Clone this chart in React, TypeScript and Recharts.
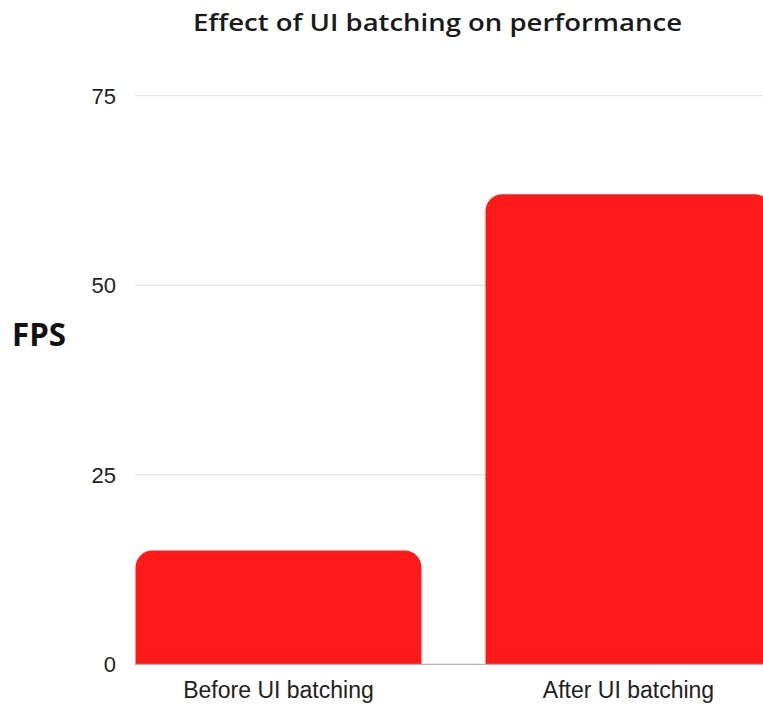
import { BarChart, Bar, XAxis, YAxis, CartesianGrid } from 'recharts';

const categories = ['Before UI batching', 'After UI batching'];
const fpsValues = [15, 62];
const yTicks = [0, 25, 50, 75];

const data = categories.map((name, i) => ({ name, fps: fpsValues[i] }));

const W = 763;
const H = 704;
const BAR_RED = '#FF1A1A';
const TEXT = '#222222';

export default function App() {
  return (
    <div style={{ position: 'absolute', left: 0, top: 0, width: W, height: H, overflow: 'hidden', background: '#fff' }}>
      <BarChart
        width={W}
        height={H}
        data={data}
        margin={{ top: 95.7, right: 0, bottom: 0, left: 75 }}
        barSize={286}
      >
        <CartesianGrid vertical={false} stroke="#dcdcdc" strokeWidth={1} />
        <XAxis
          dataKey="name"
          height={39.7}
          axisLine={{ stroke: '#aaaaaa' }}
          tickLine={false}
          tickSize={6}
          tickMargin={11}
          padding={{ left: -31.5, right: -40.5 }}
          tick={{ fill: TEXT, fontSize: 23, fontFamily: 'Liberation Sans, Arial, sans-serif' }}
        />
        <YAxis
          width={60}
          domain={[0, 75]}
          ticks={yTicks}
          axisLine={false}
          tickLine={false}
          tickSize={6}
          tickMargin={13}
          tick={{ fill: TEXT, fontSize: 22, fontFamily: 'Liberation Sans, Arial, sans-serif' }}
        />
        <Bar dataKey="fps" fill={BAR_RED} radius={[17, 17, 0, 0]} isAnimationActive={false} />
      </BarChart>
      <svg width={W} height={H} style={{ position: 'absolute', left: 0, top: 0, pointerEvents: 'none' }}>
        <text
          x={193}
          y={31}
          textLength={489}
          lengthAdjust="spacingAndGlyphs"
          fill="#1a1a1a"
          fontSize={23}
          fontWeight={600}
          fontFamily="'Open Sans', sans-serif"
        >
          Effect of UI batching on performance
        </text>
        <text
          x={12}
          y={345.7}
          textLength={54}
          lengthAdjust="spacingAndGlyphs"
          fill="#111111"
          fontSize={33}
          fontWeight={700}
          fontFamily="'Open Sans', sans-serif"
        >
          FPS
        </text>
      </svg>
    </div>
  );
}
